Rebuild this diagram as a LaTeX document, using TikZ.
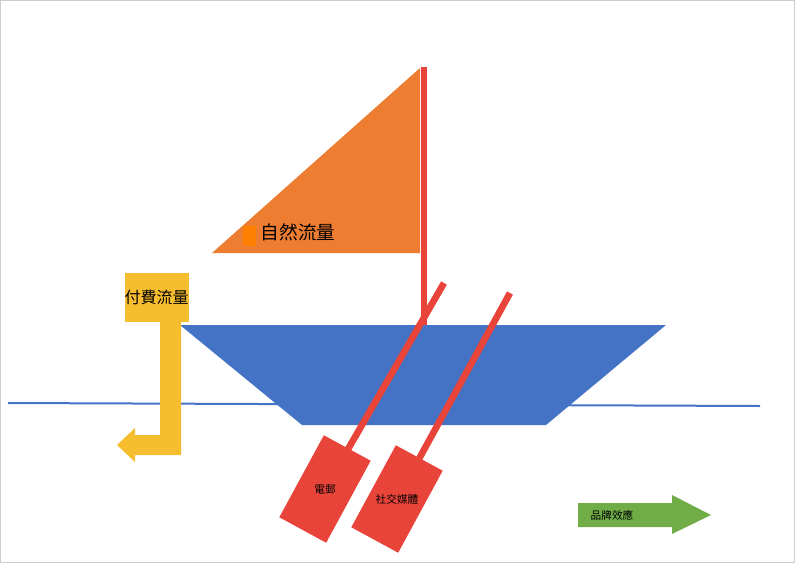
\documentclass[tikz,border=0pt]{standalone}
\usepackage{fontspec}
\newfontfamily\cjk{Noto Sans CJK TC}
\usetikzlibrary{positioning}
\definecolor{boatblue}{HTML}{4472C4}
\definecolor{sailorange}{HTML}{ED7D31}
\definecolor{oarred}{HTML}{E8443A}
\definecolor{payyellow}{HTML}{F6BE2F}
\definecolor{brandgreen}{HTML}{70AD47}
\tikzset{
  blade/.style={fill=oarred, draw=none, minimum width=70pt, minimum height=40pt, rotate=61.5, inner sep=0pt},
  oar/.style={oarred, line width=5pt},
  tag/.style={font=\cjk\fontsize{8}{8}\selectfont, inner sep=0pt}
}
\begin{document}
\begin{tikzpicture}[x=0.75pt, y=-0.75pt]
\useasboundingbox (0,0) rectangle (795,563);
\draw [gray!40] (0.5,0.5) rectangle (794.5,562.5);
% water and boat
\draw [boatblue, line width=1.5pt] (8,403) -- (760,406);
\fill [boatblue] (180,325) -- (666,325) -- (546,425) -- (302,425) -- cycle;
% sail and mast
\fill [sailorange] (212,253) -- (420,253) -- (420,68) -- cycle;
\draw [oarred, line width=4pt] (424,67) -- (424,325);
\fill [orange] (243,226) rectangle (256,246);
\node [tag, font=\cjk\fontsize{14}{14}\selectfont] (natural) at (298,232) {自然流量};
% oars
\coordinate (oartopa) at (444,283);
\coordinate (oartopb) at (510,293);
\draw [oar] (oartopa) -- (325,489);
\draw [oar] (oartopb) -- (397,499);
\node [blade] (mail) at (325,489) {};
\node [blade] (social) at (397,499) {};
\node [tag] at (mail.center) {電郵};
\node [tag] at (social.center) {社交媒體};
% paid traffic
\fill [payyellow] (160,320) -- (181,320) -- (181,455) -- (135,455) -- (135,462) -- (117,445) -- (135,428) -- (135,435) -- (160,435) -- cycle;
\node [fill=payyellow, minimum width=40pt, minimum height=37pt, inner sep=0pt,
  font=\cjk\fontsize{12}{12}\selectfont] (paid) at (156.5,297.5) {付費流量};
% brand effect
\fill [brandgreen] (578,503) -- (672,503) -- (672,495) -- (711,515) -- (672,534) -- (672,527) -- (578,527) -- cycle;
\node [tag] (brand) at (612,515) {品牌效應};
\end{tikzpicture}
\end{document}
